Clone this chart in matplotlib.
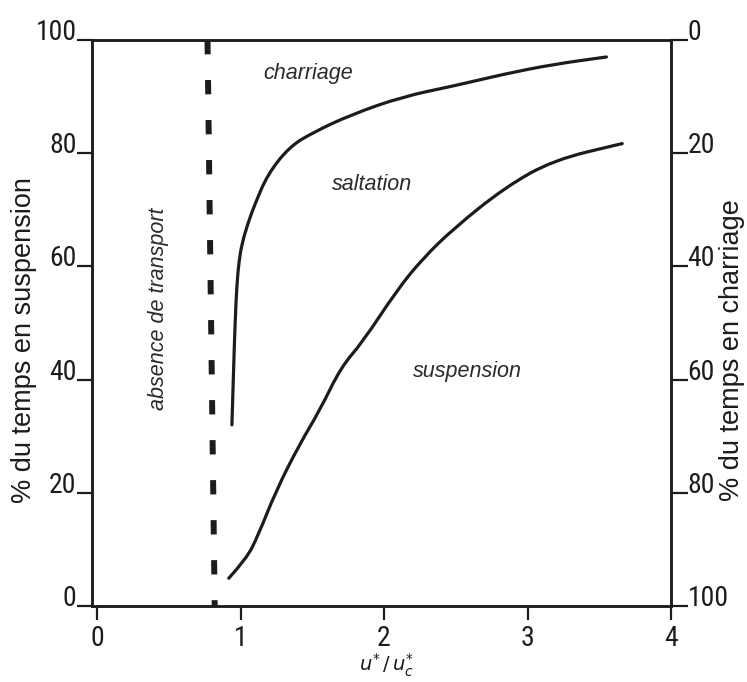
import matplotlib.pyplot as plt
from matplotlib.path import Path
from matplotlib.patches import PathPatch
from matplotlib import font_manager

# values (x = u*/u*c, y = % du temps en suspension)
upper_x = [0.94, 0.952, 0.962, 0.975, 0.99, 1.01, 1.05, 1.10, 1.19, 1.34, 1.50,
           1.77, 2.13, 2.49, 2.84, 3.18, 3.55]
upper_y = [32, 42, 50, 57, 61, 64, 67.5, 71, 76.3, 81.1, 83.6,
           86.8, 90.0, 91.9, 94.0, 95.7, 97.0]

lower_x = [0.918, 1.04, 1.12, 1.25, 1.41, 1.555, 1.70, 1.85, 2.09, 2.27,
           2.49, 2.84, 3.18, 3.66]
lower_y = [4.9, 8.3, 12.3, 20.5, 28.5, 34.7, 42.2, 46.6, 55.8, 61.4,
           66.8, 73.9, 78.8, 81.7]

threshold_x = [0.77, 0.82]
threshold_y = [100, 0]

x_ticks = [0, 1, 2, 3, 4]
y_ticks = [0, 20, 40, 60, 80, 100]

ink = '#1c1c1c'
txt_font = ['Liberation Sans', 'DejaVu Sans']

# condensed face for the numbers if one is installed
names = {f.name for f in font_manager.fontManager.ttflist}
num_font = 'DejaVu Sans'
for cand in ['Liberation Sans Narrow', 'Roboto Condensed', 'Open Sans Condensed',
             'Noto Sans Condensed', 'DejaVu Sans Condensed']:
    if cand in names:
        num_font = cand
        break


def smooth(xs, ys):
    # quadratic bezier through the midpoints of the read points
    verts = [(xs[0], ys[0])]
    codes = [Path.MOVETO]
    for i in range(1, len(xs) - 1):
        mx = (xs[i] + xs[i + 1]) / 2
        my = (ys[i] + ys[i + 1]) / 2
        verts += [(xs[i], ys[i]), (mx, my)]
        codes += [Path.CURVE3, Path.CURVE3]
    verts.append((xs[-1], ys[-1]))
    codes.append(Path.LINETO)
    return Path(verts, codes)


W, H = 747, 682
fig = plt.figure(figsize=(W / 100, H / 100), dpi=100)
ax = fig.add_axes([92 / W, 1 - 606 / H, (671 - 92) / W, (606 - 40) / H])

for xs, ys in [(upper_x, upper_y), (lower_x, lower_y)]:
    ax.add_patch(PathPatch(smooth(xs, ys), fill=False, edgecolor=ink, lw=2.3,
                           capstyle='round'))
ax.plot(threshold_x, threshold_y, color=ink, lw=4.3, dashes=(2.4, 4.3),
        dash_capstyle='butt')

ax.set_xlim(-0.035, 4.0)
ax.set_ylim(0, 100)
ax.set_xticks(x_ticks)
ax.set_xticklabels([str(v) for v in x_ticks], fontsize=20, family=num_font,
                   fontstretch='condensed', color=ink)
ax.set_yticks(y_ticks)
ax.set_yticklabels([str(v) for v in y_ticks], fontsize=20, family=num_font,
                   fontstretch='condensed', color=ink)
ax.tick_params(axis='x', direction='out', length=10, width=1.6, pad=4, colors=ink)
ax.tick_params(axis='y', direction='out', length=11, width=1.6, pad=0, colors=ink)
for lab in ax.get_yticklabels():
    lab.set_va('baseline')

ax2 = ax.twinx()
ax2.set_ylim(100, 0)
ax2.set_yticks(y_ticks)
ax2.set_yticklabels([str(v) for v in y_ticks], fontsize=20, family=num_font,
                    fontstretch='condensed', color=ink)
ax2.tick_params(axis='y', direction='out', length=12, width=1.6, pad=0, colors=ink)
for lab in ax2.get_yticklabels():
    lab.set_va('baseline')

for a in (ax, ax2):
    for s in a.spines.values():
        s.set_linewidth(1.8)
        s.set_color(ink)

# region labels
it = dict(style='italic', family=txt_font, fontsize=15.5, color='#2a2a2a',
          ha='center', va='center')
ax.text(1.47, 94.0, 'charriage', **it)
ax.text(1.92, 74.5, 'saltation', **it)
ax.text(2.58, 41.5, 'suspension', **it)
ax.text(0.43, 52.5, 'absence de transport', rotation=90, **it)

# axis titles
fig.text(24 / W, 1 - 340 / H, '% du temps en suspension', rotation=90,
         ha='center', va='center', fontsize=19.5, family=txt_font, color=ink)
fig.text(732 / W, 1 - 350 / H, '% du temps en charriage', rotation=90,
         ha='center', va='center', fontsize=19.5, family=txt_font, color=ink)
fig.text(387 / W, 3 / H, r'$u^{*}\,/\,u^{*}_{c}$', ha='center', va='bottom',
         fontsize=14, color=ink)

fig.savefig('out.png', dpi=100, facecolor='white')
